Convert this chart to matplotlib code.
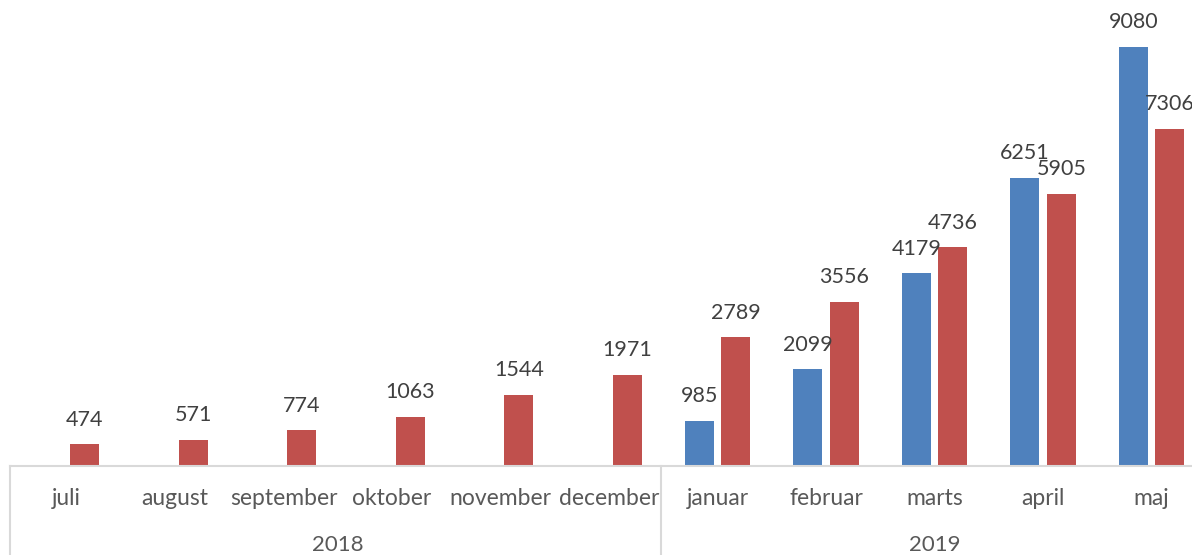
import matplotlib
matplotlib.use("Agg")
import matplotlib.pyplot as plt
import numpy as np

plt.rcParams['font.family'] = ['Lato', 'DejaVu Sans']

months = ['juli', 'august', 'september', 'oktober', 'november', 'december',
          'januar', 'februar', 'marts', 'april', 'maj']
years = ['2018', '2019']
year_groups = [(0, 5), (6, 10)]
blue_vals = [None, None, None, None, None, None, 985, 2099, 4179, 6251, 9080]
red_vals = [474, 571, 774, 1063, 1544, 1971, 2789, 3556, 4736, 5905, 7306]

blue = '#4F81BD'
red = '#C0504D'
txt = '#404040'
lab = '#595959'
grid_c = '#D9D9D9'

fig = plt.figure(figsize=(11.92, 5.55), dpi=100)
ax = fig.add_axes([0, 0.1604, 1, 0.8396])

x = np.arange(len(months))
w = 0.267
off = 0.168

b_heights = [v if v is not None else 0 for v in blue_vals]
bb = ax.bar(x - off, b_heights, w, color=blue, linewidth=0)
rb = ax.bar(x + off, red_vals, w, color=red, linewidth=0)

ax.bar_label(bb, labels=[str(v) if v is not None else '' for v in blue_vals],
             padding=10.5, fontsize=15.5, color=txt)
ax.bar_label(rb, labels=[str(v) for v in red_vals],
             padding=10.5, fontsize=15.5, color=txt)

ax.set_xlim(-0.613, 10.373)
ax.set_ylim(0, 10100)

for s in ax.spines.values():
    s.set_visible(False)
ax.set_yticks([])
ax.set_xticks(x)
ax.set_xticklabels(months, fontsize=16.5, color=lab)
ax.tick_params(axis='x', length=0, pad=16)

# axis line and group separators
tr = ax.get_xaxis_transform()
ax.plot([-0.52, 11], [0, 0], color=grid_c, lw=1.5, transform=tr, clip_on=False)
for lo, hi in year_groups:
    ax.plot([lo - 0.52, lo - 0.52], [0, -0.2], color=grid_c, lw=1.5,
            transform=tr, clip_on=False)
for yr, (lo, hi) in zip(years, year_groups):
    ax.text((lo + hi) / 2, -0.17, yr, transform=tr, ha='center', va='center',
            fontsize=16, color=lab)

fig.savefig('out.png', dpi=100)
